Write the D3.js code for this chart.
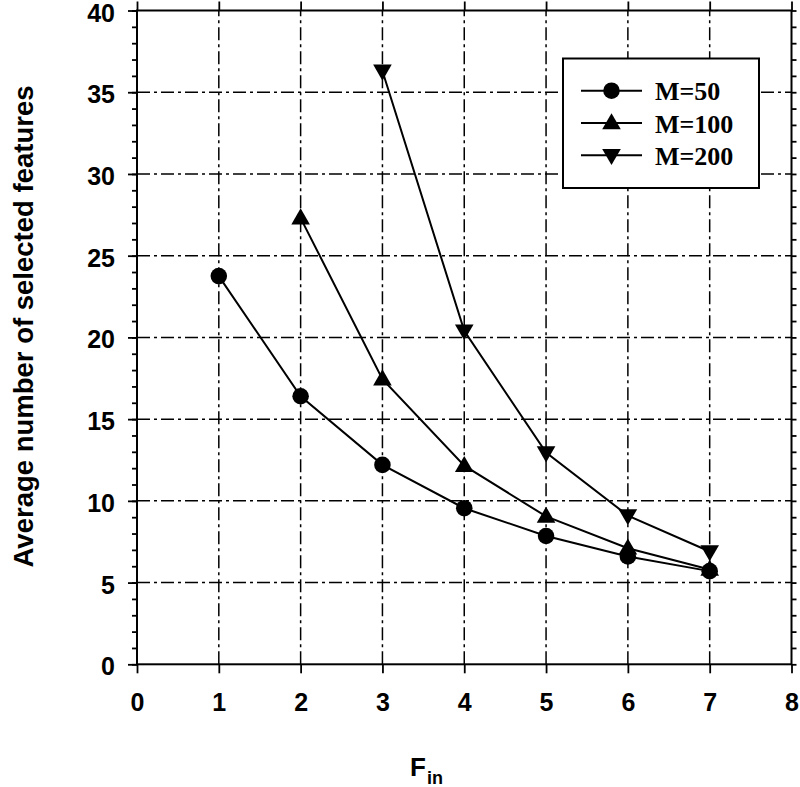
<!DOCTYPE html>
<html><head><meta charset="utf-8">
<script src="https://cdn.jsdelivr.net/npm/d3@7"></script>
<style>body{margin:0;background:#fff}svg{display:block}</style>
</head><body>
<svg id="c" width="800" height="787"></svg>
<script>
const xTicks = [0,1,2,3,4,5,6,7,8];
const yTicks = [0,5,10,15,20,25,30,35,40];
const m50x = [1,2,3,4,5,6,7];
const m50y = [23.75,16.4,12.2,9.55,7.85,6.6,5.7];
const m100x = [2,3,4,5,6,7];
const m100y = [27.3,17.45,12.15,9.05,7.1,5.8];
const m200x = [3,4,5,6,7];
const m200y = [36.3,20.4,12.95,9.1,6.9];
const seriesNames = ["M=50","M=100","M=200"];
const seriesSymbols = ["circle","up","down"];

(function(){
const svg = d3.select("#c");
const x = d3.scaleLinear().domain([0,8]).range([137,791.5]);
const y = d3.scaleLinear().domain([0,40]).range([664.3,10.5]);
const X0=x(0), X1=x(8), Y0=y(0), Y1=y(40);
const dash = "13,4,3,4";

// grid
const g = svg.append("g");
xTicks.slice(1,-1).forEach(v=>{
  g.append("line").attr("x1",x(v)).attr("x2",x(v)).attr("y1",Y0).attr("y2",Y1)
   .attr("stroke","#000").attr("stroke-width",1.5).attr("stroke-dasharray",dash);
});
yTicks.slice(1,-1).forEach(v=>{
  g.append("line").attr("x1",X0).attr("x2",X1).attr("y1",y(v)).attr("y2",y(v))
   .attr("stroke","#000").attr("stroke-width",1.5).attr("stroke-dasharray",dash);
});

const font = "'Liberation Sans', Arial, sans-serif";
// axes
const axLeft = svg.append("g").attr("transform",`translate(${X0},0)`)
  .call(d3.axisLeft(y).tickValues(yTicks).tickSize(9).tickPadding(13));
const axLeftMinor = svg.append("g").attr("transform",`translate(${X0},0)`)
  .call(d3.axisLeft(y).tickValues(d3.range(0,41)).tickSize(5).tickFormat(""));
const axRight = svg.append("g").attr("transform",`translate(${X1},0)`)
  .call(d3.axisRight(y).tickValues(d3.range(0,41)).tickSize(5).tickFormat(""));
const axBottom = svg.append("g").attr("transform",`translate(0,${Y0})`)
  .call(d3.axisBottom(x).tickValues(xTicks).tickSize(9).tickPadding(20));
const axTop = svg.append("g").attr("transform",`translate(0,${Y1})`)
  .call(d3.axisTop(x).tickValues(xTicks).tickSize(9).tickFormat(""));
[axLeft,axLeftMinor,axRight,axBottom,axTop].forEach(a=>{
  a.select(".domain").remove();
  a.selectAll("line").attr("stroke","#000").attr("stroke-width",1.8);
  a.selectAll("text").attr("font-family",font).attr("font-weight","bold")
    .attr("font-size",25).attr("fill","#000");
});
axLeft.selectAll("text").attr("dy","0.42em");
axBottom.selectAll("text").attr("dy","0.72em");
// frame
svg.append("rect").attr("x",X0).attr("y",Y1).attr("width",X1-X0).attr("height",Y0-Y1)
  .attr("fill","none").attr("stroke","#000").attr("stroke-width",2);

// series
const symFor = s => s==="circle" ? d3.symbolCircle : d3.symbolTriangle;
const symSize = s => s==="circle" ? 215 : 150;
function drawMarker(sel, s, cx, cy){
  const rot = s==="down" ? 180 : 0;
  const off = s==="circle" ? 0 : (s==="up" ? 1 : -1);
  sel.append("path").attr("d",d3.symbol(symFor(s),symSize(s))())
    .attr("transform",`translate(${cx},${cy+off}) rotate(${rot})`).attr("fill","#000");
}
const series = [[m50x,m50y],[m100x,m100y],[m200x,m200y]];
const line = d3.line().x(d=>x(d[0])).y(d=>y(d[1]));
series.forEach(([xs,ys],i)=>{
  const pts = xs.map((v,j)=>[v,ys[j]]);
  svg.append("path").attr("d",line(pts)).attr("fill","none").attr("stroke","#000").attr("stroke-width",2);
  pts.forEach(p=>drawMarker(svg,seriesSymbols[i],x(p[0]),y(p[1])));
});

// legend
const lg = svg.append("g");
lg.append("rect").attr("x",563).attr("y",58.5).attr("width",196).attr("height",129.5)
  .attr("fill","#fff").attr("stroke","#000").attr("stroke-width",2);
seriesNames.forEach((n,i)=>{
  const cy = 90.7 + i*32.3;
  lg.append("line").attr("x1",581).attr("x2",642).attr("y1",cy).attr("y2",cy)
    .attr("stroke","#000").attr("stroke-width",2);
  drawMarker(lg,seriesSymbols[i],611.5,cy);
  lg.append("text").attr("x",655).attr("y",cy+9.5).text(n)
    .attr("font-family","'Liberation Serif','Times New Roman',serif").attr("font-weight","bold")
    .attr("font-size",26);
});

// axis titles
svg.append("text").attr("transform","translate(33,326.5) rotate(-90)")
  .attr("text-anchor","middle").attr("font-family",font).attr("font-weight","bold")
  .attr("font-size",27.5).text("Average number of selected features");
const xt = svg.append("text").attr("x",410).attr("y",776)
  .attr("font-family",font).attr("font-weight","bold").attr("font-size",26);
xt.append("tspan").text("F");
xt.append("tspan").attr("font-size",18).attr("dy",8).attr("dx",1).text("in");
})();
</script>
</body></html>
